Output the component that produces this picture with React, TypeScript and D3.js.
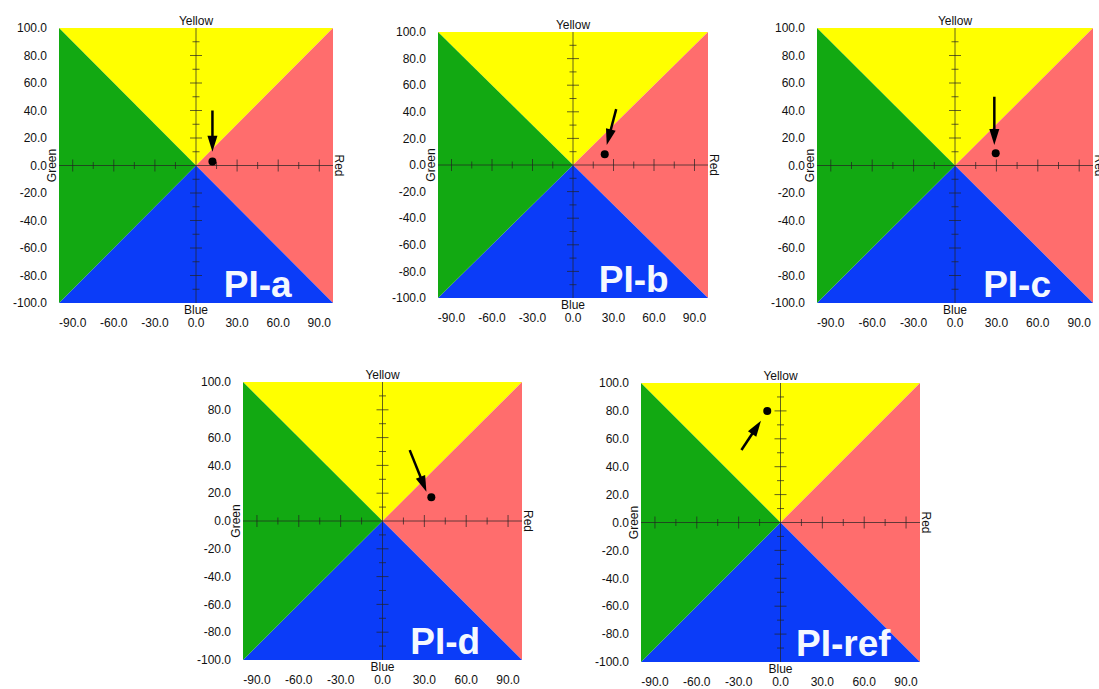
import React from "react";
import * as d3 from "d3";

// ---- data ----
const panelNames = ["PI-a", "PI-b", "PI-c", "PI-d", "PI-ref"];
const pointX = [12, 23.5, 29.5, 35, -9.5];
const pointY = [3, 8, 9, 17, 80];
const arrowFromX = [12, 32, 28.5, 19.5, -28];
const arrowFromY = [40, 42, 50, 51, 52];
const arrowToX = [12, 25, 28.5, 31.5, -14];
const arrowToY = [10, 15, 15, 21, 73];

const xTickValues = [-90, -60, -30, 0, 30, 60, 90];
const yTickValues = [100, 80, 60, 40, 20, 0, -20, -40, -60, -80, -100];
const xMinorStep = 15;
const yMinorStep = 10;

const sectorNames = ["Yellow", "Red", "Blue", "Green"];
const sectorColors = ["#FFFF00", "#FF6D6D", "#0B3CF8", "#12A912"];
const sectorCorners: [number, number][][] = [
  [[-100, 100], [100, 100], [0, 0]],
  [[100, 100], [100, -100], [0, 0]],
  [[-100, -100], [100, -100], [0, 0]],
  [[-100, 100], [-100, -100], [0, 0]],
];

// ---- layout ----
const panelBoxes = [
  { left: 59, top: 28, width: 274, height: 275 },
  { left: 438, top: 32, width: 270, height: 266 },
  { left: 817, top: 28, width: 276, height: 275 },
  { left: 243, top: 382, width: 279, height: 278 },
  { left: 641, top: 383, width: 279, height: 279 },
];

const FONT = "'Liberation Sans', Arial, Helvetica, sans-serif";
const fmt = d3
  .formatLocale({ decimal: ".", thousands: ",", grouping: [3], currency: ["", ""], minus: "-" })
  .format(".1f");

function Panel({ i }: { i: number }) {
  const b = panelBoxes[i];
  const x = d3.scaleLinear().domain([-100, 100]).range([b.left, b.left + b.width]);
  const y = d3.scaleLinear().domain([-100, 100]).range([b.top + b.height, b.top]);
  const line = d3
    .line<[number, number]>()
    .x((d) => x(d[0]))
    .y((d) => y(d[1]));
  const cx = x(0);
  const cy = y(0);
  const xTicks = d3.range(-90, 91, xMinorStep).filter((v) => v !== 0);
  const yTicks = d3.range(-90, 91, yMinorStep).filter((v) => v !== 0);

  // arrow geometry
  const ax0 = x(arrowFromX[i]);
  const ay0 = y(arrowFromY[i]);
  const ax1 = x(arrowToX[i]);
  const ay1 = y(arrowToY[i]);
  const dx = ax1 - ax0;
  const dy = ay1 - ay0;
  const len = Math.hypot(dx, dy);
  const ux = dx / len;
  const uy = dy / len;
  const headLen = 16;
  const headW = 5;
  const bx = ax1 - ux * headLen;
  const by = ay1 - uy * headLen;
  const head = [
    [ax1, ay1],
    [bx - uy * headW, by + ux * headW],
    [bx + uy * headW, by - ux * headW],
  ];

  return (
    <g>
      {sectorCorners.map((c, k) => (
        <path key={k} d={line(c) + "Z"} fill={sectorColors[k]} />
      ))}
      {/* crosshair */}
      <line x1={b.left} x2={b.left + b.width} y1={cy} y2={cy} stroke="#222" strokeOpacity={0.7} strokeWidth={1} />
      <line x1={cx} x2={cx} y1={b.top} y2={b.top + b.height} stroke="#222" strokeOpacity={0.7} strokeWidth={1} />
      {xTicks.map((v) => {
        const L = v % 30 === 0 ? 6 : 3.5;
        return (
          <line key={"xt" + v} x1={x(v)} x2={x(v)} y1={cy - L} y2={cy + L} stroke="#222" strokeOpacity={0.7} strokeWidth={1} />
        );
      })}
      {yTicks.map((v) => {
        const L = v % 20 === 0 ? 6 : 3.5;
        return (
          <line key={"yt" + v} x1={cx - L} x2={cx + L} y1={y(v)} y2={y(v)} stroke="#222" strokeOpacity={0.7} strokeWidth={1} />
        );
      })}
      {/* y tick labels */}
      {yTickValues.map((v) => (
        <text key={"yl" + v} x={b.left - 12} y={y(v)} dy="0.35em" textAnchor="end" fontSize={12} fontFamily={FONT} fill="#111">
          {fmt(v)}
        </text>
      ))}
      {/* x tick labels */}
      {xTickValues.map((v) => (
        <text key={"xl" + v} x={x(v)} y={b.top + b.height + 24} textAnchor="middle" fontSize={12} fontFamily={FONT} fill="#111">
          {fmt(v)}
        </text>
      ))}
      {/* sector labels */}
      <text x={cx} y={b.top - 3} textAnchor="middle" fontSize={12} fontFamily={FONT} fill="#111">
        {sectorNames[0]}
      </text>
      <text x={cx} y={b.top + b.height + 11} textAnchor="middle" fontSize={12} fontFamily={FONT} fill="#111">
        {sectorNames[2]}
      </text>
      <text transform={`translate(${b.left - 3},${cy}) rotate(-90)`} textAnchor="middle" fontSize={12} fontFamily={FONT} fill="#111">
        {sectorNames[3]}
      </text>
      <text transform={`translate(${b.left + b.width + 2},${cy}) rotate(90)`} textAnchor="middle" fontSize={12} fontFamily={FONT} fill="#111">
        {sectorNames[1]}
      </text>
      {/* panel name */}
      <text x={x(45)} y={b.top + b.height - 6} textAnchor="middle" fontSize={37} fontWeight="bold" fontFamily={FONT} fill="#F4F8FF">
        {panelNames[i]}
      </text>
      {/* arrow */}
      <line x1={ax0} y1={ay0} x2={bx + ux * 2} y2={by + uy * 2} stroke="#000" strokeWidth={2.5} />
      <path d={"M" + head.map((p) => p.join(",")).join("L") + "Z"} fill="#000" />
      {/* point */}
      <circle cx={x(pointX[i])} cy={y(pointY[i])} r={4} fill="#000" />
    </g>
  );
}

export default function App() {
  return (
    <svg
      width={1099}
      height={689}
      style={{ position: "absolute", left: 0, top: 0, background: "#fff" }}
    >
      <rect width={1099} height={689} fill="#fff" />
      {panelNames.map((_, i) => (
        <Panel key={i} i={i} />
      ))}
    </svg>
  );
}
